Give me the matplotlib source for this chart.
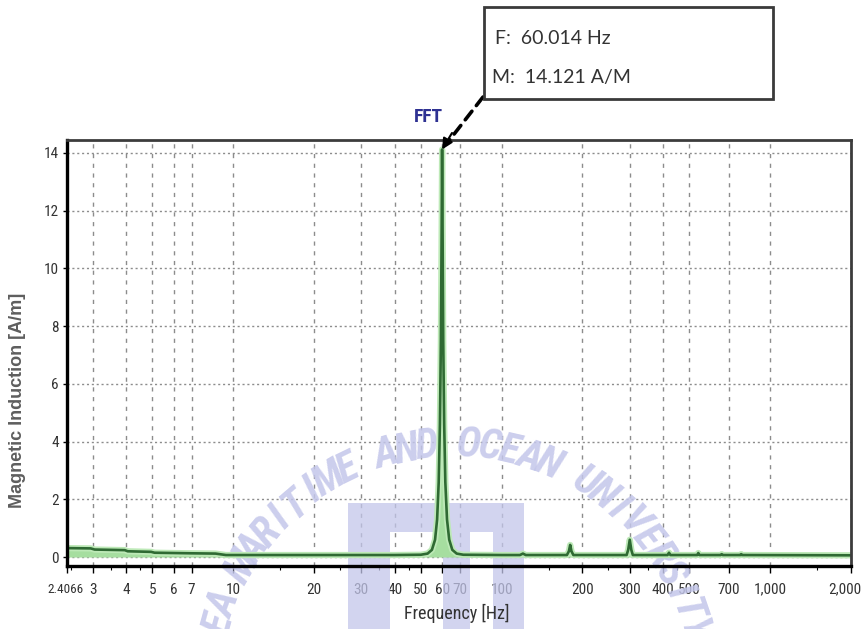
import numpy as np
import matplotlib.pyplot as plt
from matplotlib.patches import Rectangle, Polygon
from matplotlib.ticker import FixedLocator, FixedFormatter, LogLocator, NullFormatter
from matplotlib.transforms import ScaledTranslation

W, H = 861, 629

# spectrum (Hz, A/m)
freq = [2.4066, 2.95, 3.05, 3.95, 4.05, 4.95, 5.1, 7.0, 8.6, 9.4, 20, 40, 50, 53, 55,
        56.5, 57.5, 58.3, 58.9, 59.4, 59.8, 60.014, 60.25, 60.6, 61.1, 61.7, 62.6, 63.8,
        65.5, 68, 72, 100, 117, 120, 123, 175, 178, 180, 182, 185, 292, 296, 300, 304,
        308, 415, 420, 425, 535, 540, 545, 655, 660, 665, 775, 780, 785, 2000]
mag = [0.31, 0.30, 0.26, 0.24, 0.20, 0.18, 0.15, 0.13, 0.12, 0.07, 0.07, 0.07, 0.08, 0.12, 0.25,
       0.6, 1.3, 2.6, 4.6, 7.5, 11.5, 14.121, 11.5, 7.5, 4.6, 2.6, 1.3, 0.6,
       0.25, 0.12, 0.08, 0.07, 0.07, 0.12, 0.07, 0.07, 0.2, 0.42, 0.2, 0.07, 0.07, 0.25, 0.6, 0.25,
       0.07, 0.07, 0.15, 0.07, 0.07, 0.14, 0.07, 0.07, 0.1, 0.07, 0.07, 0.1, 0.07, 0.06]

peak_f, peak_m = 60.014, 14.121

xticks = [2.4066, 3, 4, 5, 6, 7, 10, 20, 30, 40, 50, 60, 70, 100, 200, 300, 400, 500, 700, 1000, 2000]
xticklabels = ["2.4066", "3", "4", "5", "6", "7", "10", "20", "30", "40", "50", "60", "70",
               "100", "200", "300", "400", "500", "700", "1,000", "2,000"]
yticks = [0, 2, 4, 6, 8, 10, 12, 14]

narrow = ["Roboto Condensed", "Liberation Sans Narrow", "Liberation Sans"]


def fpos(x, y):
    # pixel position measured from the top-left corner -> figure fraction
    return x / W, 1 - y / H


fig = plt.figure(figsize=(W / 100, H / 100), dpi=100)
ax = fig.add_axes([67 / W, 63 / H, 784 / W, 426 / H])

ax.fill_between(freq, 0, mag, color="#a6dea0", lw=0, zorder=2)
ax.plot(freq, mag, color="#bde9b7", lw=4.5, zorder=2.1, solid_joinstyle="round")
ax.plot(freq, mag, color="#2f6a33", lw=1.9, zorder=2.2)

ax.set_xscale("log")
ax.set_xlim(2.4066, 2000)
ax.set_ylim(-0.31, 14.45)

ax.xaxis.set_major_locator(FixedLocator(xticks))
ax.xaxis.set_major_formatter(FixedFormatter(xticklabels))
ax.xaxis.set_minor_locator(LogLocator(base=10, subs=np.arange(1, 10) * 0.5, numticks=50))
ax.xaxis.set_minor_formatter(NullFormatter())
ax.set_yticks(yticks)

ax.tick_params(axis="x", which="major", length=5, width=1, pad=7, labelsize=11,
               labelcolor="#333333")
ax.tick_params(axis="x", which="minor", length=3, width=0.8)
ax.tick_params(axis="y", length=3, width=1, pad=3, labelsize=11, labelcolor="#333333")
for lab in ax.get_xticklabels() + ax.get_yticklabels():
    lab.set_family(narrow)

# tighten the end labels
xlabs = ax.get_xticklabels()
xlabs[0].set_fontsize(9.5)
xlabs[0].set_transform(xlabs[0].get_transform() + ScaledTranslation(-2 / 100, 0, fig.dpi_scale_trans))
xlabs[-1].set_transform(xlabs[-1].get_transform() + ScaledTranslation(-6 / 100, 0, fig.dpi_scale_trans))

ax.grid(axis="x", which="major", color="#8c8c8c", lw=1, ls=(0, (3, 4)))
ax.grid(axis="y", color="#8c8c8c", lw=1, ls=(0, (1.5, 2)))

for side in ["left", "bottom"]:
    ax.spines[side].set_linewidth(2.4)
    ax.spines[side].set_color("black")
for side in ["top", "right"]:
    ax.spines[side].set_linewidth(2)
    ax.spines[side].set_color("#3c3c3c")

fig.text(*fpos(18, 400), "Magnetic Induction [A/m]", rotation=90, ha="center", va="center",
         fontsize=13, weight="bold", color="#5e5e5e", family="Liberation Sans")
fig.text(*fpos(457, 613), "Frequency [Hz]", ha="center", va="center", fontsize=13,
         color="#333333", family=narrow)

# marker readout box
x0, y0 = fpos(484, 99)
x1, y1 = fpos(773, 7)
fig.patches.append(Rectangle((x0, y0), x1 - x0, y1 - y0, transform=fig.transFigure,
                             fill=False, ec="#3a3a3a", lw=2))
fig.text(*fpos(495, 38), f"F:  {peak_f:.3f} Hz", ha="left", va="center", fontsize=14,
         color="#333333", family="Lato")
fig.text(*fpos(492, 77), f"M:  {peak_m:.3f} A/M", ha="left", va="center", fontsize=14,
         color="#333333", family="Lato")
fig.text(*fpos(428, 117), "FFT", ha="center", va="center", fontsize=14, weight="bold",
         color="#2e3192", family=narrow)

ax.annotate("", xy=(peak_f, peak_m), xytext=(483, H - 97), textcoords="figure pixels",
            arrowprops=dict(arrowstyle="-", ls=(0, (3, 2)), lw=2.6, color="black",
                            shrinkA=0, shrinkB=8),
            annotation_clip=False)
ax.annotate("", xy=(peak_f, peak_m), xytext=(452, H - 133), textcoords="figure pixels",
            arrowprops=dict(arrowstyle="-|>", lw=1.5, color="black", mutation_scale=16,
                            shrinkA=0, shrinkB=0),
            annotation_clip=False)

# university watermark
wm_color = "#c3c6ea"
text = "KOREA MARITIME AND OCEAN UNIVERSITY"
cx, cy, R = 455, 690, 245
for i, ch in enumerate(text):
    ang = np.radians(179 - i * 4.85)
    px, py = cx + R * np.cos(ang), cy - R * np.sin(ang)
    ax.text(*fpos(px, py), ch, transform=fig.transFigure, rotation=np.degrees(ang) - 90,
            rotation_mode="anchor", ha="center", va="center", fontsize=30, weight="bold",
            style="italic", color=wm_color, alpha=0.85, family=narrow, clip_on=False,
            zorder=1.6)

logo = [(348, 629), (348, 503), (524, 503), (524, 629), (493, 629), (493, 532), (470, 532),
        (470, 629), (443, 629), (443, 532), (390, 532), (390, 629)]
ax.add_patch(Polygon([fpos(x, y) for x, y in logo], closed=True, transform=fig.transFigure,
                     fc=wm_color, ec="none", alpha=0.75, clip_on=False, zorder=1.6))

plt.savefig("out.png", dpi=100)
